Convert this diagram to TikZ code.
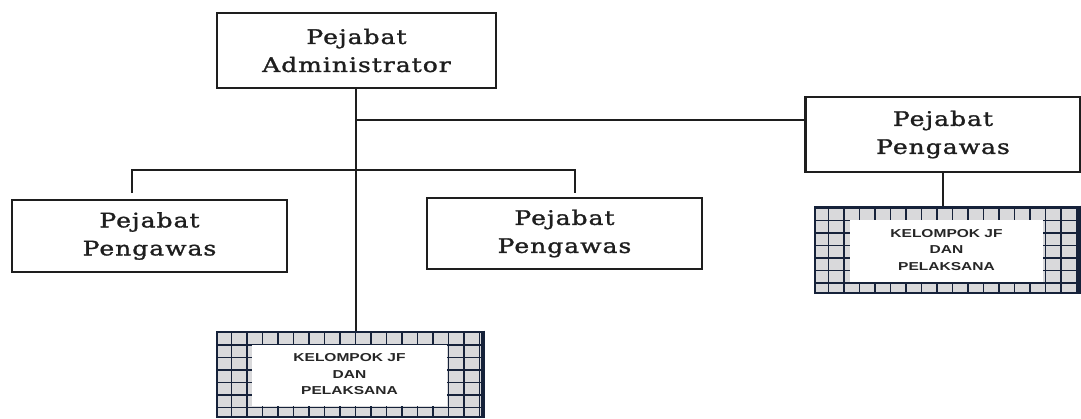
\documentclass[tikz,border=0pt]{standalone}
\usepackage{fontspec}
\usetikzlibrary{positioning}
\newfontfamily\judulfont[FakeStretch=1.25, LetterSpace=5, FakeBold=1.4]{DejaVu Serif}
\newfontfamily\kecilfont[FakeStretch=1.35]{Liberation Sans}
\definecolor{ink}{HTML}{1E1E1E}
\definecolor{navy}{HTML}{16223A}
\definecolor{kisi}{HTML}{D9D9DB}

\begin{document}
\begin{tikzpicture}[
  x=1pt, y=-1pt,
  jabatan/.style  = {draw=ink, line width=2.2pt, fill=white, align=center, inner sep=0pt,
                     minimum width=275pt, minimum height=72pt, text=ink,
                     font=\judulfont\fontsize{20}{28}\selectfont},
  kelompok/.style = {draw=navy, line width=2.8pt, fill=kisi, align=center, inner sep=0pt,
                     minimum width=265pt, minimum height=85pt, text=black!85,
                     font=\kecilfont\bfseries\fontsize{11.5}{16.5}\selectfont,
                     path picture={
                       \draw[navy, line width=1.5pt]
                         (path picture bounding box.south west) grid[xstep=15.5pt, ystep=12.5pt]
                         (path picture bounding box.north east);
                       \fill[white]
                         ([xshift=35pt, yshift=-13pt]path picture bounding box.north west) rectangle
                         ([xshift=-35pt, yshift=11pt]path picture bounding box.south east);
                     }},
  garis/.style    = {draw=ink, line width=2.2pt},
]
\useasboundingbox (0,0) rectangle (1081,418);

% ---------- jabatan ----------
\node[jabatan, minimum width=279pt, minimum height=75pt] (admin) at (356.5,50.5)
  {Pejabat\\Administrator};
\node[jabatan, minimum height=75pt] (pwKanan) at (943,134.5)
  {Pejabat\\Pengawas};
\node[jabatan] (pwKiri) at (149.5,236)
  {Pejabat\\Pengawas};
\node[jabatan, minimum height=71pt] (pwTengah) at (564.5,233.5)
  {Pejabat\\Pengawas};

% ---------- kelompok JF ----------
\node[kelompok] (klpBawah) at (349.5,374.5)
  {KELOMPOK JF\\DAN\\PELAKSANA};
\node[kelompok, minimum width=263pt, minimum height=86pt] (klpKanan) at (946.5,250)
  {KELOMPOK JF\\DAN\\PELAKSANA};
\draw[navy, line width=3.5pt] (klpBawah.north east) -- (klpBawah.south east);
\draw[navy, line width=3.5pt] (klpKanan.north east) -- (klpKanan.south east);

% ---------- garis ----------
\coordinate (cabKanan) at (356,120);
\coordinate (cabKiri) at (356,170);
\coordinate (ujungKiri) at (132,193);
\coordinate (ujungTengah) at (575,193);

\draw[garis] (admin.south -| cabKanan) -- (cabKanan |- klpBawah.north);
\draw[garis] (cabKanan) -- (cabKanan -| pwKanan.west);
\draw[garis] (ujungKiri) |- (cabKiri) -| (ujungTengah);
\draw[garis] (pwKanan.south) -- (pwKanan.south |- klpKanan.north);

\end{tikzpicture}
\end{document}
